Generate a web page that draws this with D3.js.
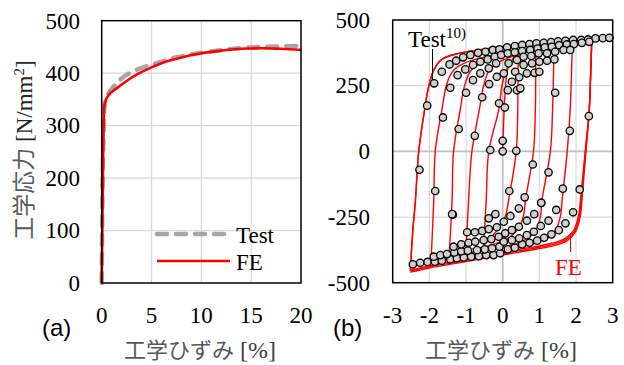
<!DOCTYPE html>
<html>
<head>
<meta charset="utf-8">
<script src="https://cdn.jsdelivr.net/npm/d3@7"></script>
<style>
  body { margin: 0; background: #fff; }
  svg { display: block; }
  .serif { font-family: "Liberation Serif", "DejaVu Serif", serif; }
  .cjk { font-family: "Noto Sans CJK JP", "Noto Sans CJK SC", sans-serif; }
  .sans { font-family: "Liberation Sans", Arial, sans-serif; }
</style>
</head>
<body>
<svg id="chart" width="624" height="365"></svg>
<script>
// ---- (a) monotonic tension: strain [%], stress [N/mm2]
const monoTestStrain = [0, 0.1, 0.2, 0.3, 0.6, 1, 1.5, 2, 3, 4, 5, 6, 7, 8, 9, 10, 12, 14, 16, 18, 20];
const monoTestStress = [0, 200, 300, 340, 358, 370, 381, 390, 402, 410, 416, 422, 428, 432, 436, 439, 444, 448, 450, 451, 452];
const monoFEStrain = [0, 0.15, 0.25, 0.4, 0.7, 1.5, 2.5, 3.5, 5, 6, 7, 8, 10, 12, 14, 15, 16, 17, 18, 20];
const monoFEStress = [0, 250, 335, 348, 358, 371, 385, 397, 411, 419, 425, 430, 438, 443, 446.5, 447, 447.5, 447, 446.5, 444];

// ---- (b) cyclic: FE branches in loading order [strain, stress]
const feBranches = [
  [[0, 0], [0.04, 157], [0.08, 250], [0.15, 320], [0.42, 380]],
  [[0.42, 380], [0.41, 157], [0.37, 0], [0.16, -186], [0.08, -245], [-0.1, -290], [-0.3, -325], [-0.52, -357]],
  [[-0.52, -357], [-0.45, -186], [-0.38, 0], [-0.11, 157], [-0.02, 250], [0.1, 310], [0.3, 345], [0.6, 375], [0.9, 398]],
  [[0.9, 398], [0.89, 157], [0.84, 0], [0.62, -186], [0.56, -250], [0.4, -300], [0.1, -335], [-0.4, -360], [-1.0, -376]],
  [[-1.0, -376], [-0.93, -186], [-0.84, 0], [-0.64, 157], [-0.52, 250], [-0.38, 305], [-0.1, 340], [0.4, 368], [0.9, 388], [1.4, 411]],
  [[1.4, 411], [1.36, 157], [1.3, 0], [1.07, -186], [1.02, -255], [0.85, -310], [0.5, -345], [-0.2, -370], [-0.9, -385], [-1.46, -395]],
  [[-1.46, -395], [-1.38, -186], [-1.34, 0], [-1.16, 157], [-1.04, 250], [-0.88, 305], [-0.6, 335], [-0.1, 360], [0.5, 380], [1.2, 398], [1.9, 422]],
  [[1.9, 422], [1.84, 157], [1.76, 0], [1.62, -186], [1.57, -250], [1.4, -310], [1.0, -345], [0.3, -372], [-0.6, -392], [-1.4, -402], [-1.95, -407]],
  [[-1.95, -407], [-1.88, -186], [-1.84, 0], [-1.66, 157], [-1.52, 259], [-1.34, 309], [-1.06, 335], [-0.65, 354], [0, 372], [0.8, 392], [1.6, 412], [2.43, 430]],
  [[2.43, 430], [2.4, 300], [2.36, 157], [2.25, 0], [2.12, -186], [2.08, -236], [1.94, -300], [1.71, -331], [1.34, -350], [0.5, -372], [0, -385], [-1.0, -410], [-2.0, -436], [-2.52, -452]],
  [[-2.52, -452], [-2.45, -300], [-2.38, -186], [-2.29, 0], [-2.11, 176], [-2.04, 233], [-1.88, 309], [-1.66, 350], [-1.2, 373], [-0.65, 386], [0, 398], [0.5, 405], [1.0, 411], [1.5, 417], [2.0, 423], [2.43, 430]],
  [[2.43, 430], [2.4, 300], [2.36, 157], [2.26, 0], [2.14, -186], [2.1, -240], [1.96, -304], [1.73, -336], [1.36, -355], [0.5, -377], [0, -390], [-1.0, -415], [-2.0, -440], [-2.52, -456]],
  [[-2.52, -456], [-2.45, -300], [-2.38, -186], [-2.29, 0], [-2.11, 176], [-2.04, 233], [-1.88, 309], [-1.66, 350], [-1.2, 373], [-0.65, 386], [0, 398], [0.5, 405], [1.0, 411], [1.5, 417], [2.0, 423], [2.43, 430]],
  [[2.43, 430], [2.4, 300], [2.36, 157], [2.27, 0], [2.16, -186], [2.12, -244], [1.98, -308], [1.75, -341], [1.38, -360], [0.5, -382], [0, -395], [-1.0, -420], [-2.0, -444], [-2.52, -460]]
];

// ---- (b) test points [strain, stress]
const testPoints = [
  [-1.87, 259], [-1.66, 303], [-1.45, 331], [-1.27, 345], [-1.08, 358], [-0.88, 367], [-0.67, 375], [-0.47, 379],
  [-0.27, 386], [-0.09, 388], [0.12, 396], [0.33, 401], [0.53, 405], [0.73, 408], [0.92, 411], [1.12, 413],
  [1.32, 416], [1.51, 419], [1.71, 421], [1.92, 424], [2.14, 424], [2.33, 426], [2.53, 430], [2.73, 431], [2.91, 432],
  [-1.43, 242], [-1.23, 290], [-1.02, 312], [-0.81, 329], [-0.61, 341], [-0.41, 350], [-0.22, 360], [-0.04, 367],
  [0.14, 373], [0.33, 377], [0.53, 382], [0.75, 386], [0.95, 391], [1.15, 396], [1.34, 398], [1.54, 404],
  [1.75, 407], [1.94, 408], [2.16, 413], [2.36, 417],
  [-1.0, 223], [-0.81, 271], [-0.61, 297], [-0.38, 316], [-0.18, 335], [0.16, 335], [0.39, 348], [0.57, 360],
  [0.78, 363], [0.98, 373], [1.21, 373], [1.43, 379], [1.66, 386], [1.84, 386],
  [-0.56, 206], [-0.37, 256], [-0.16, 284], [0.03, 297], [0.34, 303], [0.57, 329], [0.8, 335], [1.0, 341],
  [1.21, 345], [1.41, 350],
  [0.25, 265], [0.45, 282], [0.66, 297], [0.87, 299], [1.0, 303], [0.14, 233], [0.39, 233], [0.48, 240],
  [-2.06, 174], [-2.27, -70], [-1.84, -151], [-1.63, 129], [-1.2, 85], [-1.36, -241], [-0.76, 59], [-0.34, 5],
  [-0.1, 183], [0.06, 167], [0, 40], [0, 0], [0.37, 2], [0.82, -50], [1.25, -80], [1.83, 78], [2.35, 134],
  [1.43, 223], [0.18, -151], [0.6, -175], [1.05, -196], [1.64, -142], [2.1, -145],
  [-2.45, -430], [-2.25, -424], [-2.05, -421], [-1.85, -420], [-1.66, -416], [-1.43, -411], [-1.25, -407],
  [-1.06, -404], [-0.86, -401], [-0.65, -399], [-0.45, -395], [-0.25, -395], [-0.07, -388], [0.14, -373],
  [0.33, -367], [0.53, -354], [0.73, -348], [0.94, -340], [1.13, -329], [1.33, -316], [1.53, -300], [1.71, -274], [1.92, -232],
  [-1.88, -401], [-1.7, -395], [-1.52, -391], [-1.32, -385], [-1.13, -380], [-0.95, -378], [-0.7, -376],
  [-0.49, -373], [-0.29, -369], [-0.09, -363],
  [0.03, -344], [0.25, -338], [0.45, -331], [0.66, -319], [0.85, -306], [1.04, -284], [1.25, -264], [1.46, -223],
  [-1.34, -363], [-1.13, -354], [-0.93, -348], [-0.75, -344], [-0.52, -338], [-0.31, -334], [-0.11, -325],
  [0.07, -312], [0.25, -300], [0.44, -287], [0.66, -264], [0.86, -239], [1.05, -196],
  [-0.97, -308], [-0.76, -308], [-0.56, -303], [-0.38, -296], [-0.16, -289], [0.03, -268], [0.21, -246], [0.44, -217],
  [-0.38, -255], [-0.2, -239], [-1.38, -239]
];

const aXTicks = [0, 5, 10, 15, 20];
const aYTicks = [0, 100, 200, 300, 400, 500];
const bXTicks = [-3, -2, -1, 0, 1, 2, 3];
const bYTicks = [-500, -250, 0, 250, 500];

const svg = d3.select('#chart');
const gridColor = '#d9d9d9';

// ================= panel (a)
const xa = d3.scaleLinear().domain([0, 20]).range([101.7, 301]);
const ya = d3.scaleLinear().domain([0, 500]).range([283, 20.7]);

const ga = svg.append('g');
ga.selectAll('line.gx').data(aXTicks.slice(1, -1)).enter().append('line')
  .attr('x1', d => xa(d)).attr('x2', d => xa(d)).attr('y1', ya(0)).attr('y2', ya(500))
  .attr('stroke', gridColor).attr('stroke-width', 1.2);
ga.selectAll('line.gy').data(aYTicks.slice(1, -1)).enter().append('line')
  .attr('x1', xa(0)).attr('x2', xa(20)).attr('y1', d => ya(d)).attr('y2', d => ya(d))
  .attr('stroke', gridColor).attr('stroke-width', 1.2);

const testPts = monoTestStrain.map((s, i) => [s, monoTestStress[i]]);
const fePts = monoFEStrain.map((s, i) => [s, monoFEStress[i]]);
const lineA = d3.line().x(d => xa(d[0])).y(d => ya(d[1])).curve(d3.curveMonotoneX);

ga.append('path').attr('d', lineA(testPts)).attr('fill', 'none')
  .attr('stroke', '#a6a6a6').attr('stroke-width', 4.5)
  .attr('stroke-dasharray', '10,9').attr('stroke-linecap', 'round');
ga.append('path').attr('d', lineA(fePts)).attr('fill', 'none')
  .attr('stroke', '#ff0000').attr('stroke-width', 2.6);

ga.append('rect').attr('x', xa(0)).attr('y', ya(500))
  .attr('width', xa(20) - xa(0)).attr('height', ya(0) - ya(500))
  .attr('fill', 'none').attr('stroke', '#000').attr('stroke-width', 1.5);

ga.selectAll('text.yt').data(aYTicks).enter().append('text')
  .attr('class', 'serif')
  .attr('x', 80).attr('y', d => ya(d)).attr('dy', '0.34em')
  .attr('text-anchor', 'end').attr('font-size', 23)
  .text(d => d);
ga.selectAll('text.xt').data(aXTicks).enter().append('text')
  .attr('class', 'serif')
  .attr('x', d => xa(d)).attr('y', 323).attr('text-anchor', 'middle')
  .attr('font-size', 23).text(d => d);

// legend
ga.append('line').attr('x1', 157).attr('x2', 229).attr('y1', 234).attr('y2', 234)
  .attr('stroke', '#a6a6a6').attr('stroke-width', 4.5)
  .attr('stroke-dasharray', '10,9').attr('stroke-linecap', 'round');
ga.append('line').attr('x1', 157).attr('x2', 230).attr('y1', 261).attr('y2', 261)
  .attr('stroke', '#ff0000').attr('stroke-width', 2.6);
ga.append('text').attr('class', 'serif').attr('x', 236).attr('y', 243).attr('font-size', 23).text('Test');
ga.append('text').attr('class', 'serif').attr('x', 236).attr('y', 270).attr('font-size', 23).text('FE');

ga.append('text').attr('class', 'sans').attr('x', 42).attr('y', 336).attr('font-size', 24).text('(a)');

// axis titles
const xTitleA = ga.append('text').attr('x', 200).attr('y', 358).attr('text-anchor', 'middle');
xTitleA.append('tspan').attr('class', 'cjk').attr('font-size', 22).attr('fill', '#595959').text('工学ひずみ');
xTitleA.append('tspan').attr('class', 'serif').attr('font-size', 24).attr('fill', '#404040').text(' [%]');

const yTitle = ga.append('text').attr('transform', 'translate(32,150) rotate(-90)').attr('text-anchor', 'middle');
yTitle.append('tspan').attr('class', 'cjk').attr('font-size', 23).attr('fill', '#595959').text('工学応力');
yTitle.append('tspan').attr('class', 'serif').attr('font-size', 23).attr('fill', '#262626').text(' [N/mm');
yTitle.append('tspan').attr('class', 'serif').attr('font-size', 15).attr('dy', '-8').attr('fill', '#262626').text('2');
yTitle.append('tspan').attr('class', 'serif').attr('font-size', 23).attr('dy', '8').attr('fill', '#262626').text(']');

// ================= panel (b)
const xb = d3.scaleLinear().domain([-3, 3]).range([392.7, 612.7]);
const yb = d3.scaleLinear().domain([-500, 500]).range([282.7, 20]);

const gb = svg.append('g');
gb.selectAll('line.gx').data(bXTicks.slice(1, -1)).enter().append('line')
  .attr('x1', d => xb(d)).attr('x2', d => xb(d)).attr('y1', yb(-500)).attr('y2', yb(500))
  .attr('stroke', d => d === 0 ? '#bfbfbf' : gridColor).attr('stroke-width', d => d === 0 ? 1.8 : 1.2);
gb.selectAll('line.gy').data(bYTicks.slice(1, -1)).enter().append('line')
  .attr('x1', xb(-3)).attr('x2', xb(3)).attr('y1', d => yb(d)).attr('y2', d => yb(d))
  .attr('stroke', d => d === 0 ? '#bfbfbf' : gridColor).attr('stroke-width', d => d === 0 ? 1.8 : 1.2);

const lineB = d3.line().x(d => xb(d[0])).y(d => yb(d[1])).curve(d3.curveCatmullRom.alpha(0.5));
gb.selectAll('path.fe').data(feBranches).enter().append('path')
  .attr('d', lineB).attr('fill', 'none')
  .attr('stroke', '#ff0000').attr('stroke-width', 1.4);

gb.selectAll('circle').data(testPoints).enter().append('circle')
  .attr('cx', d => xb(d[0])).attr('cy', d => yb(d[1])).attr('r', 3.7)
  .attr('fill', '#d0d0d0').attr('stroke', '#000').attr('stroke-width', 1.3);

gb.append('rect').attr('x', xb(-3)).attr('y', yb(500))
  .attr('width', xb(3) - xb(-3)).attr('height', yb(-500) - yb(500))
  .attr('fill', 'none').attr('stroke', '#000').attr('stroke-width', 1.5);

gb.selectAll('text.yt').data(bYTicks).enter().append('text')
  .attr('class', 'serif')
  .attr('x', 370).attr('y', d => yb(d)).attr('dy', '0.34em')
  .attr('text-anchor', 'end').attr('font-size', 23)
  .text(d => d);
gb.selectAll('text.xt').data(bXTicks).enter().append('text')
  .attr('class', 'serif')
  .attr('x', d => xb(d)).attr('y', 323).attr('text-anchor', 'middle')
  .attr('font-size', 23).text(d => d);

// annotations
gb.append('line').attr('x1', 432.5).attr('x2', 432.5).attr('y1', 49).attr('y2', 80)
  .attr('stroke', '#000').attr('stroke-width', 1);
const testLbl = gb.append('text').attr('class', 'serif').attr('x', 408).attr('y', 47);
testLbl.append('tspan').attr('font-size', 23).text('Test');
testLbl.append('tspan').attr('font-size', 15).attr('dy', -9).text('10)');

gb.append('line').attr('x1', 570.5).attr('x2', 570.5).attr('y1', 233).attr('y2', 252)
  .attr('stroke', '#ff0000').attr('stroke-width', 1);
gb.append('text').attr('class', 'serif').attr('x', 555).attr('y', 275).attr('font-size', 23)
  .attr('fill', '#ff0000').text('FE');

gb.append('text').attr('class', 'sans').attr('x', 333).attr('y', 336).attr('font-size', 24).text('(b)');

const xTitleB = gb.append('text').attr('x', 501).attr('y', 358).attr('text-anchor', 'middle');
xTitleB.append('tspan').attr('class', 'cjk').attr('font-size', 22).attr('fill', '#595959').text('工学ひずみ');
xTitleB.append('tspan').attr('class', 'serif').attr('font-size', 24).attr('fill', '#404040').text(' [%]');
</script>
</body>
</html>
